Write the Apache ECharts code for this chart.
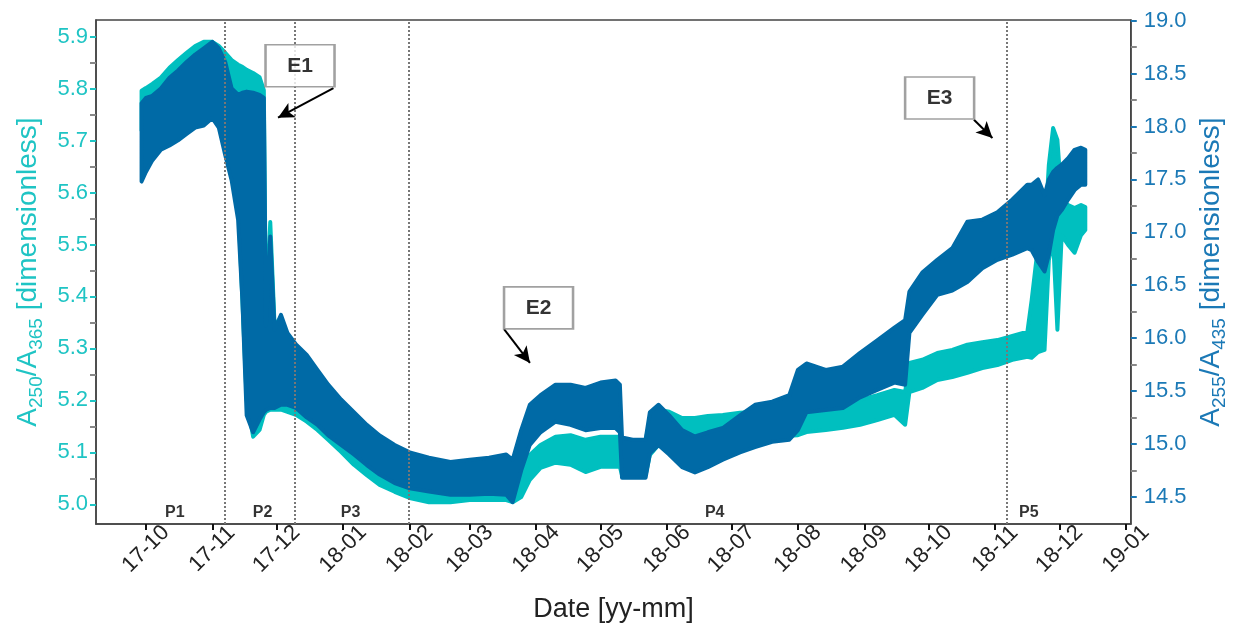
<!DOCTYPE html>
<html>
<head>
<meta charset="utf-8">
<script src="https://cdn.jsdelivr.net/npm/echarts@6.0.0/dist/echarts.min.js"></script>
<style>
html,body{margin:0;padding:0;background:#fff;}
#chart{width:1237px;height:631px;}
</style>
</head>
<body>
<div id="chart"></div>
<script>
// ---------------- data ----------------
const dates = ['2017-09-29','2017-10-01','2017-10-04','2017-10-08','2017-10-12','2017-10-16','2017-10-20','2017-10-24','2017-10-28','2017-11-01',
'2017-11-04','2017-11-07','2017-11-10','2017-11-13','2017-11-15','2017-11-17','2017-11-20','2017-11-23','2017-11-25','2017-11-26',
'2017-11-28','2017-11-30','2017-12-03','2017-12-06','2017-12-10','2017-12-15','2017-12-20','2017-12-25','2017-12-31','2018-01-06',
'2018-01-12','2018-01-18','2018-01-25','2018-02-01','2018-02-10','2018-02-20','2018-03-01','2018-03-10','2018-03-18','2018-03-21',
'2018-03-25','2018-03-29','2018-04-03','2018-04-10','2018-04-17','2018-04-24','2018-05-01','2018-05-08','2018-05-10','2018-05-11',
'2018-05-16','2018-05-22','2018-05-24','2018-05-28','2018-06-02','2018-06-08','2018-06-14','2018-06-20','2018-06-27','2018-07-05',
'2018-07-12','2018-07-20','2018-07-28','2018-08-01','2018-08-05','2018-08-14','2018-08-22','2018-08-30','2018-09-07','2018-09-15',
'2018-09-20','2018-09-22','2018-09-28','2018-10-05','2018-10-12','2018-10-19','2018-10-26','2018-11-02','2018-11-09','2018-11-16',
'2018-11-18','2018-11-21','2018-11-24','2018-11-26','2018-11-28','2018-11-30','2018-12-02','2018-12-05','2018-12-08','2018-12-11',
'2018-12-13'];

// A250/A365 (left axis): upper and lower edge of the noisy band
const a250High = [5.796,5.801,5.809,5.821,5.840,5.855,5.869,5.882,5.890,5.890,
5.882,5.869,5.855,5.846,5.842,5.836,5.830,5.822,5.797,5.355,
5.543,5.345,5.359,5.316,5.301,5.278,5.249,5.220,5.191,5.166,
5.143,5.124,5.105,5.089,5.081,5.080,5.081,5.085,5.089,5.089,
5.051,5.095,5.114,5.130,5.133,5.124,5.130,5.130,5.130,5.124,
5.120,5.124,5.162,5.182,5.178,5.166,5.166,5.170,5.172,5.176,
5.178,5.182,5.185,5.187,5.191,5.187,5.191,5.201,5.210,5.220,
5.216,5.272,5.278,5.291,5.297,5.307,5.312,5.316,5.324,5.332,
5.393,5.499,5.509,5.653,5.724,5.701,5.586,5.576,5.570,5.576,
5.572];
const a250Low = [5.720,5.701,5.701,5.711,5.720,5.730,5.736,5.744,5.749,5.755,
5.744,5.720,5.682,5.586,5.393,5.201,5.130,5.143,5.172,5.178,
5.182,5.182,5.182,5.178,5.172,5.159,5.143,5.124,5.101,5.076,
5.056,5.037,5.024,5.012,5.004,5.004,5.008,5.008,5.008,5.004,
5.014,5.047,5.070,5.080,5.076,5.062,5.072,5.072,5.072,5.056,
5.053,5.056,5.095,5.114,5.114,5.105,5.105,5.108,5.114,5.120,
5.124,5.128,5.132,5.133,5.139,5.143,5.147,5.153,5.162,5.172,
5.153,5.216,5.224,5.239,5.245,5.253,5.262,5.268,5.278,5.284,
5.282,5.293,5.297,5.470,5.509,5.336,5.518,5.499,5.484,5.518,
5.528];

// A255/A435 (right axis): upper and lower edge of the noisy band
const a255High = [18.22,18.27,18.29,18.36,18.46,18.53,18.61,18.68,18.74,18.80,
18.74,18.61,18.36,18.30,18.32,18.33,18.32,18.30,18.27,16.12,
16.96,16.08,16.22,16.05,15.94,15.84,15.70,15.56,15.42,15.30,
15.18,15.08,14.99,14.92,14.87,14.83,14.85,14.87,14.90,14.85,
15.13,15.37,15.46,15.56,15.56,15.53,15.58,15.60,15.56,15.06,
15.04,15.04,15.30,15.37,15.27,15.13,15.07,15.11,15.15,15.27,
15.37,15.40,15.46,15.70,15.76,15.70,15.73,15.86,15.98,16.10,
16.17,16.44,16.62,16.74,16.85,17.10,17.12,17.19,17.31,17.45,
17.45,17.50,17.35,17.50,17.57,17.61,17.64,17.70,17.78,17.80,
17.78];
const a255Low = [17.48,17.57,17.68,17.78,17.82,17.87,17.93,17.99,18.01,18.08,
17.99,17.73,17.49,17.12,16.36,15.27,15.11,15.23,15.30,15.32,
15.34,15.34,15.37,15.37,15.34,15.25,15.18,15.08,14.99,14.90,
14.80,14.71,14.63,14.58,14.55,14.52,14.52,14.53,14.52,14.45,
14.75,14.99,15.11,15.21,15.18,15.13,15.15,15.15,15.11,14.68,
14.68,14.68,14.91,14.99,14.90,14.78,14.73,14.78,14.85,14.92,
14.97,15.02,15.04,15.13,15.30,15.32,15.34,15.44,15.51,15.58,
15.56,16.05,16.22,16.41,16.45,16.53,16.66,16.74,16.79,16.85,
16.83,16.72,16.63,16.79,17.02,17.16,17.21,17.31,17.40,17.45,
17.45];

// axes / ticks
const xRange = ['2017-09-07T18','2019-01-03T05'];
const monthTicks = ['2017-10-01','2017-11-01','2017-12-01','2018-01-01','2018-02-01','2018-03-01','2018-04-01','2018-05-01',
'2018-06-01','2018-07-01','2018-08-01','2018-09-01','2018-10-01','2018-11-01','2018-12-01','2019-01-01'];
const leftRange = [4.962, 5.932];
const leftTicks = [5.0,5.1,5.2,5.3,5.4,5.5,5.6,5.7,5.8,5.9];
const leftMinorTicks = [5.05,5.15,5.25,5.35,5.45,5.55,5.65,5.75,5.85];
const rightRange = [14.243, 19.007];
const rightTicks = [14.5,15.0,15.5,16.0,16.5,17.0,17.5,18.0,18.5,19.0];
const rightMinorTicks = [14.75,15.25,15.75,16.25,16.75,17.25,17.75,18.25,18.75];

// annotations
const periodBounds = ['2017-11-06T18','2017-12-09T15','2018-01-31T12','2018-11-06T04'];
const periodNames = ['P1','P2','P3','P4','P5'];
const periodLabelDates = ['2017-10-14T12','2017-11-24T10','2018-01-04T10','2018-06-23T05','2018-11-16T17'];
const periodLabelValue = 4.983;
const eventNames = ['E1','E2','E3'];
const eventBoxDates = ['2017-12-11T21','2018-04-02T02','2018-10-06T02'];
const eventBoxValues = [5.844, 5.378, 5.782];
const arrowFromDates = ['2017-12-27T11','2018-03-17T00','2018-10-22T02'];
const arrowFromValues = [5.801, 5.337, 5.740];
const arrowToDates = ['2017-12-01T15','2018-03-29T02','2018-10-30T17'];
const arrowToValues = [5.744, 5.272, 5.705];

// ---------------- helpers ----------------
function ts(s){
  const p = s.split('T');
  const d = p[0].split('-').map(Number);
  const h = p[1] ? Number(p[1]) : 0;
  return Date.UTC(d[0], d[1]-1, d[2], h);
}
function fmtMonth(v){
  const d = new Date(v);
  return String(d.getUTCFullYear()).slice(2) + '-' + String(d.getUTCMonth()+1).padStart(2,'0');
}
const FONT = '"Liberation Sans", Arial, sans-serif';
const COL_A = '#00BFBF';
const COL_B = '#006AA6';
const COL_A_TXT = '#1FC4C4';
const COL_B_TXT = '#1B79B6';

function band(name, yIdx, lo, hi, color){
  return {
    type: 'custom', name: name, xAxisIndex: 0, yAxisIndex: yIdx, clip: true,
    data: dates.map((d,i)=>[ts(d), lo[i], hi[i]]),
    encode: {x: 0, y: [1, 2]},
    renderItem: function(params, api){
      if (params.dataIndex !== 0) return null;
      const pts = [];
      for (let i = 0; i < dates.length; i++) pts.push(api.coord([ts(dates[i]), hi[i]]));
      for (let i = dates.length - 1; i >= 0; i--) pts.push(api.coord([ts(dates[i]), lo[i]]));
      return {type: 'polygon', shape: {points: pts},
        style: {fill: color, stroke: color, lineWidth: 4, lineJoin: 'round'}};
    }
  };
}

const tickNum = v => Number(v).toFixed(1);
function yAxisMajor(pos, range, ticks, txtColor, name, gap, margin){
  return {
    type: 'value', position: pos, min: range[0], max: range[1],
    axisLine: {show: true, lineStyle: {color: '#444', width: 1.5}},
    axisTick: {show: true, customValues: ticks, length: 6, lineStyle: {color: txtColor, width: 2}},
    axisLabel: {customValues: ticks, formatter: tickNum, color: txtColor, fontSize: 22, margin: margin, fontFamily: FONT},
    splitLine: {show: false},
    name: name, nameLocation: 'middle', nameRotate: 90, nameGap: gap,
    nameTextStyle: {color: txtColor, fontFamily: FONT,
      rich: {
        a: {fontSize: 28, lineHeight: 35, color: txtColor, fontFamily: FONT},
        s: {fontSize: 19, lineHeight: 19, color: txtColor, fontFamily: FONT, verticalAlign: 'bottom'}
      }}
  };
}
function yAxisMinor(pos, range, ticks){
  return {
    type: 'value', position: pos, min: range[0], max: range[1],
    axisLine: {show: false},
    axisTick: {show: true, customValues: ticks, length: 6, lineStyle: {color: '#888', width: 2}},
    axisLabel: {show: false},
    splitLine: {show: false}
  };
}

const chart = echarts.init(document.getElementById('chart'), null, {renderer: 'canvas'});
chart.setOption({
  animation: false,
  backgroundColor: '#fff',
  grid: {left: 96, right: 104, top: 20, bottom: 107, show: true, borderColor: '#444', borderWidth: 1.5, backgroundColor: 'transparent'},
  xAxis: {
    type: 'value', min: ts(xRange[0]), max: ts(xRange[1]),
    axisLine: {show: true, lineStyle: {color: '#444', width: 1.5}},
    axisTick: {show: true, customValues: monthTicks.map(ts), length: 6, lineStyle: {color: '#111', width: 2}},
    axisLabel: {customValues: monthTicks.map(ts), formatter: fmtMonth, rotate: 45, align: 'center', verticalAlign: 'middle',
      fontSize: 22, color: '#222', fontFamily: FONT, margin: 25},
    splitLine: {show: false},
    name: 'Date [yy-mm]', nameLocation: 'middle', nameGap: 72,
    nameTextStyle: {fontSize: 27, color: '#222', fontFamily: FONT}
  },
  yAxis: [
    yAxisMajor('left', leftRange, leftTicks, COL_A_TXT, '{a|A}{s|250}{a|/A}{s|365}{a| [dimensionless]}', 50, 8),
    yAxisMinor('left', leftRange, leftMinorTicks),
    yAxisMajor('right', rightRange, rightTicks, COL_B_TXT, '{a|A}{s|255}{a|/A}{s|435}{a| [dimensionless]}', 61, 13),
    yAxisMinor('right', rightRange, rightMinorTicks)
  ],
  series: [
    band('A250/A365', 0, a250Low, a250High, COL_A),
    band('A255/A435', 2, a255Low, a255High, COL_B),
    {
      type: 'scatter', name: 'periods', yAxisIndex: 0, z: 5,
      symbolSize: 1, itemStyle: {color: 'rgba(0,0,0,0)'},
      data: periodNames.map((n,i)=>({name: n, value: [ts(periodLabelDates[i]), periodLabelValue]})),
      label: {show: true, position: 'inside', formatter: p=>p.name, fontSize: 16, fontWeight: 'bold', color: '#000', fontFamily: FONT},
      markLine: {
        silent: true, symbol: 'none', label: {show: false}, animation: false,
        lineStyle: {color: '#777', width: 2, type: 'dotted'},
        data: periodBounds.map(d=>({xAxis: ts(d)}))
      }
    },
    {
      type: 'scatter', name: 'events', yAxisIndex: 0, z: 6,
      symbol: 'rect', symbolSize: [69, 42],
      itemStyle: {color: '#fff', borderColor: '#8a8a8a', borderWidth: 2},
      data: eventNames.map((n,i)=>({name: n, value: [ts(eventBoxDates[i]), eventBoxValues[i]]})),
      label: {show: true, position: 'inside', formatter: p=>p.name, fontSize: 21, fontWeight: 'bold', color: '#000', fontFamily: FONT},
      markLine: {
        silent: true, symbol: ['none','arrow'], symbolSize: [12, 16], label: {show: false}, animation: false,
        lineStyle: {color: '#000', width: 2, type: 'solid'},
        data: eventNames.map((n,i)=>[
          {coord: [ts(arrowFromDates[i]), arrowFromValues[i]]},
          {coord: [ts(arrowToDates[i]), arrowToValues[i]]}
        ])
      }
    }
  ]
});
</script>
</body>
</html>
